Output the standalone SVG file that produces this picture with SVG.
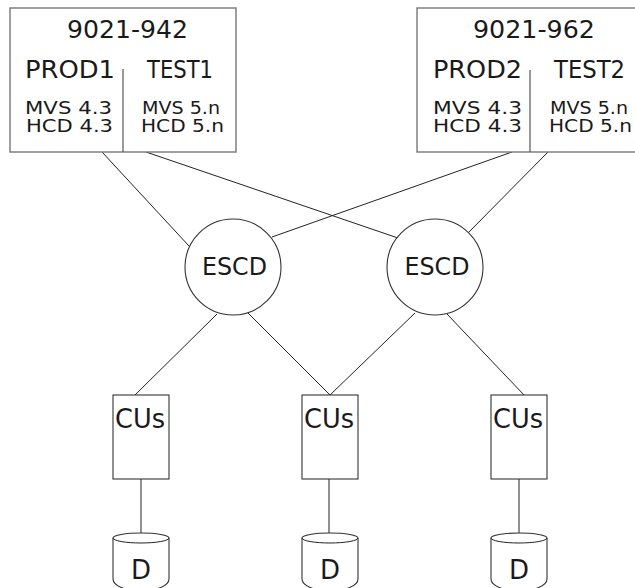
<svg xmlns="http://www.w3.org/2000/svg" width="635" height="588" viewBox="0 0 635 588">
<style>
.box{fill:#fff;stroke:#777;stroke-width:1.4}
.div{stroke:#555;stroke-width:1.2}
.ln{stroke:#222;stroke-width:1;fill:none}
.node{fill:#fff;stroke:#333;stroke-width:1.1}
text{font-family:"DejaVu Sans","Liberation Sans",sans-serif;fill:#1a1a1a}
.t1{font-size:25px}
.t2{font-size:18.5px}
.tc{text-anchor:middle}
</style>
<rect width="635" height="588" fill="#fff"/>
<g id="connectors">
<line class="ln" x1="102" y1="152" x2="189" y2="246"/>
<line class="ln" x1="146" y1="152" x2="398" y2="238"/>
<line class="ln" x1="512" y1="152" x2="272" y2="237"/>
<line class="ln" x1="548" y1="152" x2="468" y2="233"/>
<line class="ln" x1="217" y1="314" x2="135" y2="395"/>
<line class="ln" x1="248" y1="313" x2="330" y2="395"/>
<line class="ln" x1="415" y1="313" x2="330" y2="395"/>
<line class="ln" x1="447" y1="314" x2="524" y2="395"/>
<line class="ln" x1="141" y1="479" x2="141" y2="533"/>
<line class="ln" x1="329" y1="479" x2="329" y2="533"/>
<line class="ln" x1="519" y1="479" x2="519" y2="533"/>
</g>
<g id="host1">
<rect class="box" x="10" y="8" width="226" height="144"/>
<line class="div" x1="123" y1="69" x2="123" y2="152"/>
<text class="t1 tc" x="127.5" y="38" textLength="121" lengthAdjust="spacingAndGlyphs">9021-942</text>
<text class="t1" x="25" y="78" textLength="90" lengthAdjust="spacingAndGlyphs">PROD1</text>
<text class="t1" x="147" y="78" textLength="66" lengthAdjust="spacingAndGlyphs">TEST1</text>
<text class="t2" x="25" y="114" textLength="87" lengthAdjust="spacingAndGlyphs">MVS 4.3</text>
<text class="t2" x="26" y="132" textLength="87" lengthAdjust="spacingAndGlyphs">HCD 4.3</text>
<text class="t2" x="142" y="114" textLength="78" lengthAdjust="spacingAndGlyphs">MVS 5.n</text>
<text class="t2" x="141" y="132" textLength="83" lengthAdjust="spacingAndGlyphs">HCD 5.n</text>
</g>
<g id="host2">
<rect class="box" x="417" y="8" width="226" height="144"/>
<line class="div" x1="530" y1="70" x2="530" y2="152"/>
<text class="t1 tc" x="534" y="38" textLength="122" lengthAdjust="spacingAndGlyphs">9021-962</text>
<text class="t1" x="433" y="78" textLength="89" lengthAdjust="spacingAndGlyphs">PROD2</text>
<text class="t1" x="554" y="78" textLength="71" lengthAdjust="spacingAndGlyphs">TEST2</text>
<text class="t2" x="433" y="114" textLength="89" lengthAdjust="spacingAndGlyphs">MVS 4.3</text>
<text class="t2" x="433" y="132" textLength="89" lengthAdjust="spacingAndGlyphs">HCD 4.3</text>
<text class="t2" x="550" y="114" textLength="78" lengthAdjust="spacingAndGlyphs">MVS 5.n</text>
<text class="t2" x="549" y="132" textLength="83" lengthAdjust="spacingAndGlyphs">HCD 5.n</text>
</g>
<g id="escd1">
<circle class="node" cx="233" cy="267" r="48"/>
<text class="t1 tc" x="234.5" y="275" textLength="65" lengthAdjust="spacingAndGlyphs">ESCD</text>
</g>
<g id="escd2">
<circle class="node" cx="435" cy="267" r="48"/>
<text class="t1 tc" x="437" y="275" textLength="65" lengthAdjust="spacingAndGlyphs">ESCD</text>
</g>
<g id="cu1">
<rect class="node" x="113" y="395" width="56" height="84"/>
<text class="t1 tc" x="140" y="428" textLength="50" lengthAdjust="spacingAndGlyphs" style="font-size:27px">CUs</text>
</g>
<g id="cu2">
<rect class="node" x="302" y="395" width="56" height="84"/>
<text class="t1 tc" x="329" y="428" textLength="50" lengthAdjust="spacingAndGlyphs" style="font-size:27px">CUs</text>
</g>
<g id="cu3">
<rect class="node" x="491" y="395" width="56" height="84"/>
<text class="t1 tc" x="518" y="428" textLength="50" lengthAdjust="spacingAndGlyphs" style="font-size:27px">CUs</text>
</g>
<g id="d1">
<path class="node" d="M113,538 A28,5 0 0 1 169,538 V579 A28,12 0 0 1 113,579 Z"/>
<path class="ln" d="M113,538 A28,5 0 0 0 169,538"/>
<text class="t1 tc" x="141" y="579" style="font-size:26px">D</text>
</g>
<g id="d2">
<path class="node" d="M302,538 A28,5 0 0 1 358,538 V579 A28,12 0 0 1 302,579 Z"/>
<path class="ln" d="M302,538 A28,5 0 0 0 358,538"/>
<text class="t1 tc" x="330" y="579" style="font-size:26px">D</text>
</g>
<g id="d3">
<path class="node" d="M491,538 A28,5 0 0 1 547,538 V579 A28,12 0 0 1 491,579 Z"/>
<path class="ln" d="M491,538 A28,5 0 0 0 547,538"/>
<text class="t1 tc" x="519" y="579" style="font-size:26px">D</text>
</g>
</svg>
